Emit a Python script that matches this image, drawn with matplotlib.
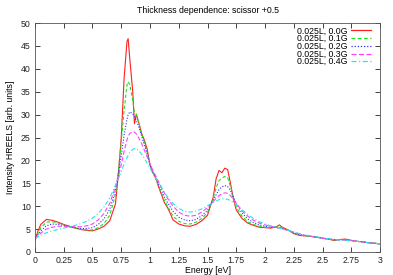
import matplotlib
matplotlib.use("Agg")
import matplotlib.pyplot as plt

# energy grid [eV] shared by all series
energy = [
    0, 0.025, 0.05, 0.1, 0.15, 0.2, 0.25, 0.3, 0.35, 0.4, 0.45, 0.5, 0.55, 0.6,
    0.65, 0.7, 0.725, 0.75, 0.775, 0.8, 0.81, 0.825, 0.85, 0.865, 0.88, 0.9,
    0.925, 0.95, 0.975, 1.0, 1.025, 1.05, 1.075, 1.1, 1.125, 1.15, 1.175, 1.2,
    1.25, 1.3, 1.35, 1.4, 1.45, 1.5, 1.55, 1.575, 1.6, 1.625, 1.65, 1.675, 1.7,
    1.725, 1.75, 1.8, 1.85, 1.9, 1.95, 2.0, 2.05, 2.1, 2.125, 2.15, 2.2, 2.25,
    2.3, 2.35, 2.4, 2.45, 2.5, 2.55, 2.6, 2.65, 2.7, 2.75, 2.8, 2.85, 2.9, 2.95,
    3.0,
]

g00 = [
    2.5, 4.5, 6.0, 7.1, 6.9, 6.5, 6.0, 5.6, 5.2, 4.9, 4.7, 4.6, 5.0, 5.6,
    6.8, 10.5, 17, 25, 38, 46, 46.6, 42, 35, 28, 30, 28.5,
    26, 24.5, 22.5, 19, 17.3, 16.2, 14.2, 12.5, 10.8, 9.8, 8.5, 7.0,
    6.1, 5.7, 5.6, 6.0, 6.8, 8.0, 12.0, 16.0, 17.8, 17.3, 18.3, 18.0, 15.0,
    11.5, 9.2, 7.3, 6.3, 5.8, 5.4, 5.3, 5.2, 5.5, 5.9, 5.4, 4.8, 4.0,
    3.6, 3.5, 3.4, 3.2, 3.0, 2.8, 2.5, 2.7, 2.8, 2.5, 2.3, 2.2, 2.0, 1.9,
    1.75,
]
g01 = [
    2.5, 4.0, 5.3, 6.5, 6.6, 6.3, 5.9, 5.5, 5.2, 4.9, 4.8, 4.8, 5.3, 6.2,
    8.0, 12.5, 17.5, 24, 31, 36.5, 37.2, 36.5, 33, 30.5, 30.2, 28.5,
    26, 24, 21.8, 19, 17.3, 16.0, 14.3, 12.8, 11.2, 10.1, 9.0, 7.8,
    6.7, 6.2, 6.1, 6.5, 7.3, 8.6, 11.8, 14.0, 15.6, 16.1, 16.5, 16.2, 14.3,
    11.8, 9.8, 7.8, 6.6, 6.0, 5.6, 5.4, 5.3, 5.4, 5.6, 5.3, 4.8, 4.1,
    3.7, 3.5, 3.4, 3.2, 3.0, 2.8, 2.6, 2.7, 2.7, 2.5, 2.3, 2.2, 2.0, 1.9,
    1.75,
]
g02 = [
    2.6, 3.7, 4.6, 5.7, 6.1, 6.0, 5.8, 5.5, 5.3, 5.1, 5.1, 5.3, 6.0, 7.2,
    9.3, 13.5, 17, 21, 25.5, 29, 30, 30.6, 30.2, 29.5, 28.8, 27.5,
    25.5, 23.5, 21.5, 19.2, 17.5, 16.2, 14.8, 13.4, 12.0, 10.9, 9.9, 8.9,
    7.6, 7.0, 6.8, 7.1, 7.9, 9.1, 11.3, 12.5, 13.6, 14.2, 14.5, 14.3, 13.4,
    12.0, 10.6, 8.5, 7.2, 6.4, 5.9, 5.6, 5.4, 5.3, 5.3, 5.1, 4.7, 4.2,
    3.8, 3.6, 3.4, 3.2, 3.0, 2.8, 2.7, 2.7, 2.6, 2.5, 2.3, 2.2, 2.0, 1.9,
    1.75,
]
g03 = [
    2.8, 3.5, 4.1, 5.0, 5.4, 5.6, 5.6, 5.5, 5.5, 5.5, 5.7, 6.1, 7.0, 8.4,
    10.6, 14.2, 16.5, 19, 22, 24.5, 25.2, 25.9, 26.3, 26.2, 25.8, 25.0,
    23.8, 22.3, 20.8, 19.2, 17.8, 16.6, 15.3, 14.1, 12.9, 11.8, 10.9, 10.0,
    8.7, 8.0, 7.8, 8.0, 8.7, 9.7, 11.0, 11.7, 12.3, 12.7, 12.9, 12.8, 12.3,
    11.5, 10.6, 9.0, 7.8, 6.9, 6.3, 5.9, 5.6, 5.3, 5.2, 5.0, 4.7, 4.3,
    3.9, 3.6, 3.4, 3.2, 3.0, 2.8, 2.7, 2.6, 2.6, 2.5, 2.3, 2.2, 2.0, 1.9,
    1.75,
]
g04 = [
    3.0, 3.3, 3.6, 4.2, 4.6, 4.9, 5.2, 5.5, 5.8, 6.2, 6.7, 7.4, 8.4, 9.8,
    11.8, 14.6, 16.0, 17.6, 19.2, 20.6, 21.1, 21.8, 22.4, 22.6, 22.5, 22.2,
    21.4, 20.5, 19.4, 18.3, 17.2, 16.1, 15.1, 14.0, 13.0, 12.1, 11.3, 10.6,
    9.5, 8.9, 8.7, 8.9, 9.4, 10.1, 10.8, 11.1, 11.4, 11.6, 11.6, 11.5, 11.2,
    10.8, 10.3, 9.2, 8.2, 7.3, 6.6, 6.1, 5.7, 5.4, 5.2, 5.0, 4.7, 4.3,
    4.0, 3.7, 3.5, 3.3, 3.1, 2.9, 2.7, 2.6, 2.5, 2.4, 2.3, 2.2, 2.0, 1.9,
    1.75,
]

series_labels = ["0.025L, 0.0G", "0.025L, 0.1G", "0.025L, 0.2G",
                 "0.025L, 0.3G", "0.025L, 0.4G"]
series_values = [g00, g01, g02, g03, g04]
series_colors = ["#ff2020", "#20e020", "#3030ff", "#ff40ff", "#20e8e8"]
series_styles = ["-", (0, (3, 2)), (0, (1, 1.5)), (0, (4, 2)), (0, (4, 2, 1, 2))]

x_ticks = [0, 0.25, 0.5, 0.75, 1, 1.25, 1.5, 1.75, 2, 2.25, 2.5, 2.75, 3]
x_tick_labels = ["0", "0.25", "0.5", "0.75", "1", "1.25", "1.5", "1.75",
                 "2", "2.25", "2.5", "2.75", "3"]
y_ticks = [0, 5, 10, 15, 20, 25, 30, 35, 40, 45, 50]

plt.rcParams["font.family"] = ["Liberation Sans", "DejaVu Sans"]
plt.rcParams["font.size"] = 6.3

fig = plt.figure(figsize=(3.93, 2.75), dpi=100)
ax = fig.add_axes([0.089, 0.084, 0.878, 0.832])

for values, label, color, style in zip(series_values, series_labels,
                                       series_colors, series_styles):
    ax.plot(energy, values, color=color, linestyle=style, linewidth=0.8,
            label=label)

ax.set_xlim(0, 3)
ax.set_ylim(0, 50)
ax.set_xticks(x_ticks, x_tick_labels)
ax.set_yticks(y_ticks)
ax.tick_params(direction="in", length=3.5, width=0.6, top=True, right=True,
               labelsize=6.3, pad=3, colors="#222222")
for spine in ax.spines.values():
    spine.set_linewidth(0.6)
    spine.set_color("#555555")

ax.set_title("Thickness dependence: scissor +0.5", fontsize=6.3, pad=7)
ax.set_xlabel("Energy [eV]", fontsize=6.3, labelpad=1)
ax.set_ylabel("Intensity HREELS [arb. units]", fontsize=6.3, labelpad=4)

leg = ax.legend(loc="upper right", frameon=False, markerfirst=False,
                handlelength=2.3, handletextpad=0.4, labelspacing=-0.15,
                borderaxespad=0.0, borderpad=0.0, fontsize=6.3,
                bbox_to_anchor=(0.975, 0.985))
for handle, color in zip(leg.get_lines(), series_colors):
    handle.set_color(color)
    handle.set_linewidth(0.9)

fig.savefig("out.png", dpi=100)
